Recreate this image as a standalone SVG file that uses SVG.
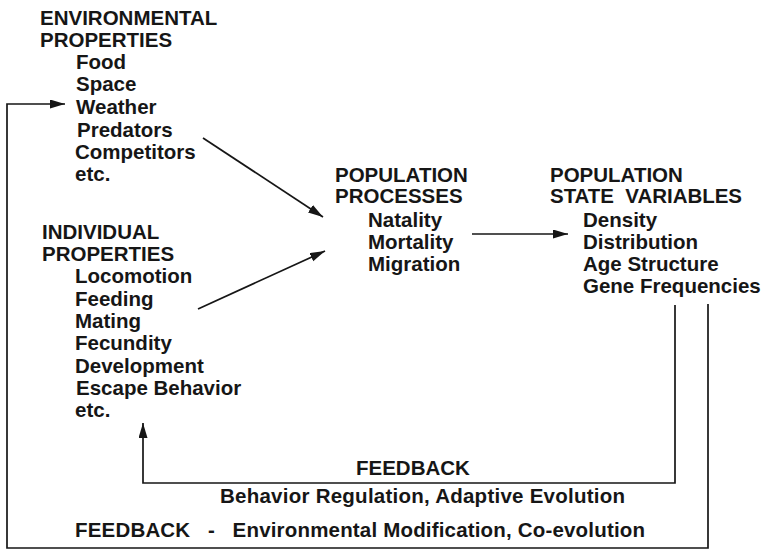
<svg xmlns="http://www.w3.org/2000/svg" width="766" height="552" viewBox="0 0 766 552">
  <style>
    text { font-family: "Liberation Sans", Arial, Helvetica, sans-serif; font-weight: bold; font-size: 20.5px; fill: #161616; }
    .ln { fill: none; stroke: #161616; stroke-width: 1.7; }
  </style>
  <defs>
    <marker id="ah" markerUnits="userSpaceOnUse" markerWidth="16" markerHeight="10" refX="15" refY="4.5" orient="auto">
      <path d="M0,0 L15,4.5 L0,9 z" fill="#161616"/>
    </marker>
  </defs>
  <rect width="766" height="552" fill="#ffffff"/>

  <g id="environmental-properties">
    <text x="40" y="25">ENVIRONMENTAL</text>
    <text x="40" y="47">PROPERTIES</text>
    <text x="76" y="69">Food</text>
    <text x="76" y="91">Space</text>
    <text x="76" y="114">Weather</text>
    <text x="77" y="137">Predators</text>
    <text x="75" y="159">Competitors</text>
    <text x="75" y="181">etc.</text>
  </g>

  <g id="individual-properties">
    <text x="42" y="239">INDIVIDUAL</text>
    <text x="42" y="261">PROPERTIES</text>
    <text x="75" y="283">Locomotion</text>
    <text x="75" y="306">Feeding</text>
    <text x="75" y="328">Mating</text>
    <text x="75" y="350">Fecundity</text>
    <text x="75" y="373">Development</text>
    <text x="76" y="395">Escape Behavior</text>
    <text x="75" y="417">etc.</text>
  </g>

  <g id="population-processes">
    <text x="335" y="182">POPULATION</text>
    <text x="335" y="203">PROCESSES</text>
    <text x="368" y="227">Natality</text>
    <text x="368" y="249">Mortality</text>
    <text x="368" y="271">Migration</text>
  </g>

  <g id="population-state-variables">
    <text x="550" y="182">POPULATION</text>
    <text x="550" y="203" textLength="192" lengthAdjust="spacing">STATE&#160; VARIABLES</text>
    <text x="583" y="227">Density</text>
    <text x="583" y="249">Distribution</text>
    <text x="583" y="271">Age Structure</text>
    <text x="583" y="293">Gene Frequencies</text>
  </g>

  <g id="connectors">
    <line class="ln" x1="203" y1="138" x2="323" y2="217" marker-end="url(#ah)"/>
    <line class="ln" x1="198" y1="309" x2="325" y2="251" marker-end="url(#ah)"/>
    <line class="ln" x1="472" y1="234" x2="568" y2="234" marker-end="url(#ah)"/>
    <polyline class="ln" points="675,305 675,483 143,483 143,423" marker-end="url(#ah)"/>
    <polyline class="ln" points="708,304 708,548 7,548 7,104 65,104" marker-end="url(#ah)"/>
  </g>

  <g id="feedback-labels">
    <text x="356" y="475">FEEDBACK</text>
    <text x="220" y="503" textLength="405" lengthAdjust="spacing">Behavior Regulation, Adaptive Evolution</text>
    <text x="75" y="537" textLength="570" lengthAdjust="spacing">FEEDBACK&#160; &#160;-&#160; &#160;Environmental Modification, Co-evolution</text>
  </g>
</svg>
